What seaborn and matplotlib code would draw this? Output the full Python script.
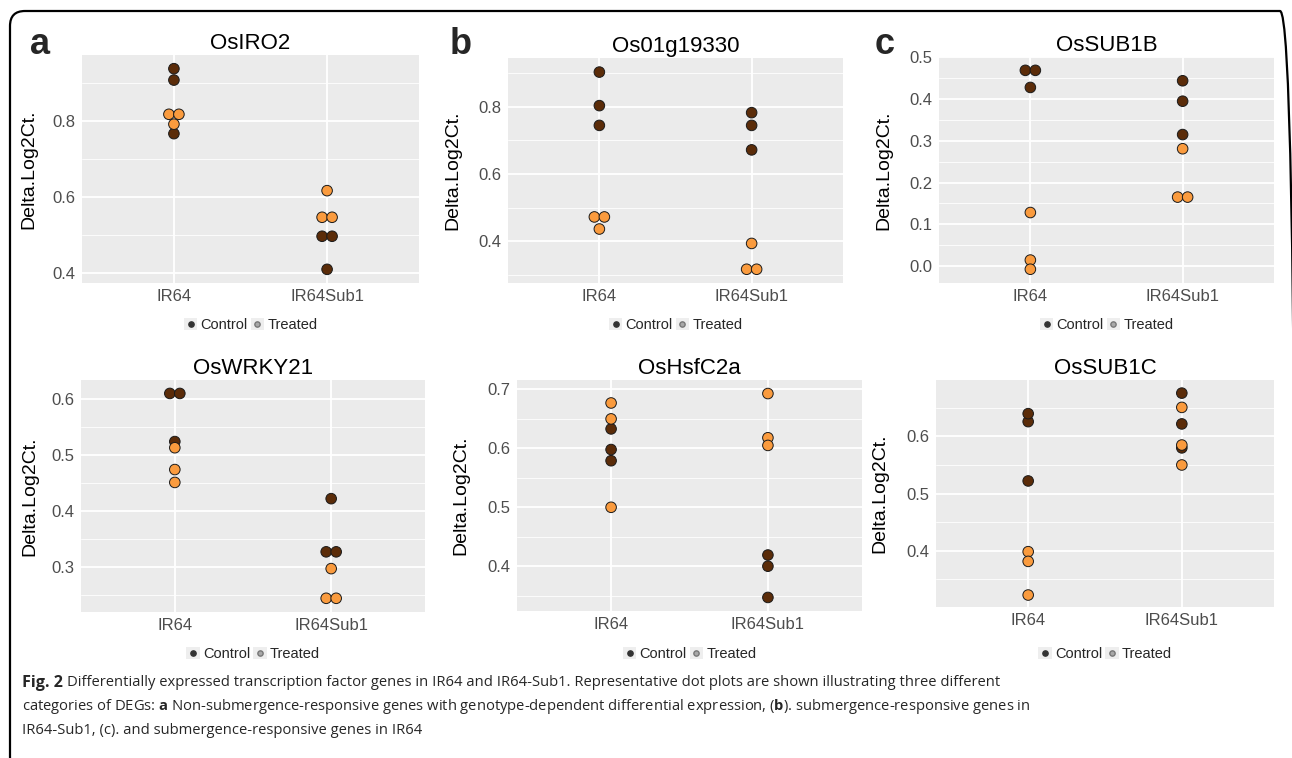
import numpy as np
import pandas as pd
import matplotlib
matplotlib.use("Agg")
import matplotlib.pyplot as plt
import seaborn as sns
from matplotlib.lines import Line2D
from matplotlib.patches import Rectangle, FancyBboxPatch
from matplotlib.legend_handler import HandlerTuple
from matplotlib.text import Annotation
from matplotlib.ticker import MultipleLocator, FormatStrFormatter

# ---- data (Delta.Log2Ct.) ----
genotypes = ["IR64", "IR64Sub1"]
conditions = ["Control", "Treated"]
genes = ["OsIRO2", "Os01g19330", "OsSUB1B", "OsWRKY21", "OsHsfC2a", "OsSUB1C"]
panel_letters = ["a", "b", "c"]

# [IR64 values, IR64Sub1 values]
osiro2_control = [[0.938, 0.908, 0.767], [0.497, 0.497, 0.410]]
osiro2_treated = [[0.818, 0.818, 0.792], [0.617, 0.547, 0.547]]
os01g19330_control = [[0.904, 0.804, 0.745], [0.783, 0.745, 0.672]]
os01g19330_treated = [[0.472, 0.472, 0.436], [0.393, 0.316, 0.316]]
ossub1b_control = [[0.469, 0.469, 0.428], [0.444, 0.395, 0.315]]
ossub1b_treated = [[0.128, 0.014, -0.008], [0.281, 0.165, 0.165]]
oswrky21_control = [[0.610, 0.610, 0.524], [0.422, 0.327, 0.327]]
oswrky21_treated = [[0.513, 0.474, 0.451], [0.297, 0.244, 0.244]]
oshsfc2a_control = [[0.633, 0.598, 0.579], [0.419, 0.400, 0.347]]
oshsfc2a_treated = [[0.677, 0.650, 0.500], [0.693, 0.618, 0.605]]
ossub1c_control = [[0.626, 0.640, 0.522], [0.676, 0.622, 0.580]]
ossub1c_treated = [[0.398, 0.381, 0.322], [0.651, 0.585, 0.550]]

gene_data = [
    (osiro2_control, osiro2_treated),
    (os01g19330_control, os01g19330_treated),
    (ossub1b_control, ossub1b_treated),
    (oswrky21_control, oswrky21_treated),
    (oshsfc2a_control, oshsfc2a_treated),
    (ossub1c_control, ossub1c_treated),
]

# ---- layout (pixels in the 1292x758 canvas) ----
W, H = 1292, 758
panel_boxes = [(82, 55, 419, 283), (508, 58, 843, 283), (939, 57, 1274, 283),
               (81, 380, 425, 612), (517, 380, 862, 611), (936, 380, 1274, 607)]
ylims = [(0.374, 0.974), (0.275, 0.946), (-0.041, 0.501),
         (0.2195, 0.634), (0.324, 0.716), (0.301, 0.699)]
major_steps = [0.2, 0.2, 0.1, 0.1, 0.1, 0.1]
ylabel_x = [37, 461, 892, 38, 469, 888]
legend_y = [325, 325, 325, 654, 654, 654]
letter_x = [30, 450, 875]

ctrl_color = "#5B2C09"
trt_color = "#FA9B3E"

sns.set_style("darkgrid", {"axes.facecolor": "#EBEBEB", "grid.color": "white"})
plt.rcParams["font.family"] = ["Liberation Sans", "DejaVu Sans"]
plt.rcParams["mathtext.fontset"] = "custom"
plt.rcParams["mathtext.rm"] = "Open Sans"
plt.rcParams["mathtext.bf"] = "Open Sans:bold"


def build_frame(control, treated):
    rows = []
    for cond, groups in zip(conditions, [control, treated]):
        for gi, vals in enumerate(groups):
            for v in vals:
                rows.append((genotypes[gi], gi, cond, v))
    df = pd.DataFrame(rows, columns=["genotype", "gpos", "condition", "value"])
    # dotplot-style stacking: identical values sit side by side
    keys = ["genotype", "condition", "value"]
    df["rank"] = df.groupby(keys).cumcount()
    df["n"] = df.groupby(keys)["value"].transform("size")
    return df


fig = plt.figure(figsize=(W / 100, H / 100), dpi=100)

# rounded frame around the figure (right and bottom edges run off the canvas)
frame = FancyBboxPatch((0.10, -0.14), 12.85, 7.61,
                       boxstyle="round,pad=0,rounding_size=0.15",
                       transform=fig.dpi_scale_trans, fill=False,
                       edgecolor="black", linewidth=1.6, zorder=0)
fig.patches.append(frame)

dot_px = 10.0
for i, gene in enumerate(genes):
    x0, y0, x1, y1 = panel_boxes[i]
    ax = fig.add_axes([x0 / W, 1 - y1 / H, (x1 - x0) / W, (y1 - y0) / H])
    df = build_frame(*gene_data[i])
    step = dot_px / (x1 - x0) * 2.2
    df["x"] = df["gpos"] + (df["rank"] - (df["n"] - 1) / 2) * step

    sns.scatterplot(data=df, x="x", y="value", hue="condition",
                    hue_order=conditions, palette=[ctrl_color, trt_color],
                    s=58, edgecolor="#1A1A1A", linewidth=0.7, legend=False,
                    ax=ax, zorder=3)

    ax.set_xlim(-0.6, 1.6)
    ax.set_xticks([0, 1])
    ax.set_xticklabels(genotypes)
    ax.set_ylim(*ylims[i])
    ax.yaxis.set_major_locator(MultipleLocator(major_steps[i]))
    ax.yaxis.set_minor_locator(MultipleLocator(major_steps[i] / 2))
    ax.yaxis.set_major_formatter(FormatStrFormatter("%.1f"))
    ax.set_axisbelow(True)
    ax.grid(which="major", color="white", linewidth=1.3)
    ax.grid(which="minor", axis="y", color="white", linewidth=0.6)
    ax.grid(which="minor", axis="x", visible=False)
    for s in ax.spines.values():
        s.set_visible(False)
    ax.tick_params(axis="both", which="major", length=3, width=0.8,
                   color="#333333", labelcolor="#4D4D4D", labelsize=12, pad=1.5)
    ax.tick_params(axis="both", which="minor", length=0)

    ax.set_xlabel("")
    ax.set_ylabel("Delta.Log2Ct.", fontsize=14, color="black")
    ax.yaxis.set_label_coords((ylabel_x[i] - x0) / (x1 - x0), 0.5)
    ax.set_title(gene, fontsize=16, color="black", pad=4)

    key_bg = Rectangle((0, 0), 1, 1, facecolor="#EEEEEE", edgecolor="none")
    h_ctrl = (key_bg, Line2D([], [], marker="o", ls="", ms=3.8,
                             mfc="#333333", mec="#333333"))
    h_trt = (key_bg, Line2D([], [], marker="o", ls="", ms=3.8,
                            mfc="#A8A8A8", mec="#777777"))
    ly = (y1 - legend_y[i]) / (y1 - y0)
    ax.legend([h_ctrl, h_trt], conditions,
              handler_map={tuple: HandlerTuple(ndivide=1, pad=0)},
              loc="center", bbox_to_anchor=(0.5, ly), ncol=2, frameon=False,
              fontsize=10.5, handlelength=0.95, handleheight=0.95,
              handletextpad=0.2, columnspacing=0.2, borderaxespad=0,
              borderpad=0)

for j, letter in enumerate(panel_letters):
    fig.text(letter_x[j] / W, 1 - 54 / H, letter, fontsize=26,
             fontweight="bold", va="baseline", ha="left")

# caption
cap_size = 10.6
fig_lbl = fig.text(22 / W, 1 - 687 / H, "Fig. 2", fontsize=11.6,
                   family="Open Sans", fontweight="bold", va="baseline")
fig.add_artist(Annotation(
    "Differentially expressed transcription factor genes in IR64 and IR64-Sub1. "
    "Representative dot plots are shown illustrating three different",
    xy=(1, 0), xycoords=fig_lbl, xytext=(3, 0.4), textcoords="offset points",
    va="bottom", ha="left", fontsize=cap_size, family="Open Sans"))
caption_rest = [
    r"categories of DEGs: $\mathbf{a}$ Non-submergence-responsive genes with genotype-dependent "
    r"differential expression, ($\mathbf{b}$). submergence-responsive genes in",
    "IR64-Sub1, (c). and submergence-responsive genes in IR64",
]
for k, line in enumerate(caption_rest):
    fig.text(22 / W, 1 - (710.5 + 23.5 * k) / H, line, fontsize=cap_size,
             family="Open Sans", va="baseline", ha="left")

fig.savefig("out.png", dpi=100)
